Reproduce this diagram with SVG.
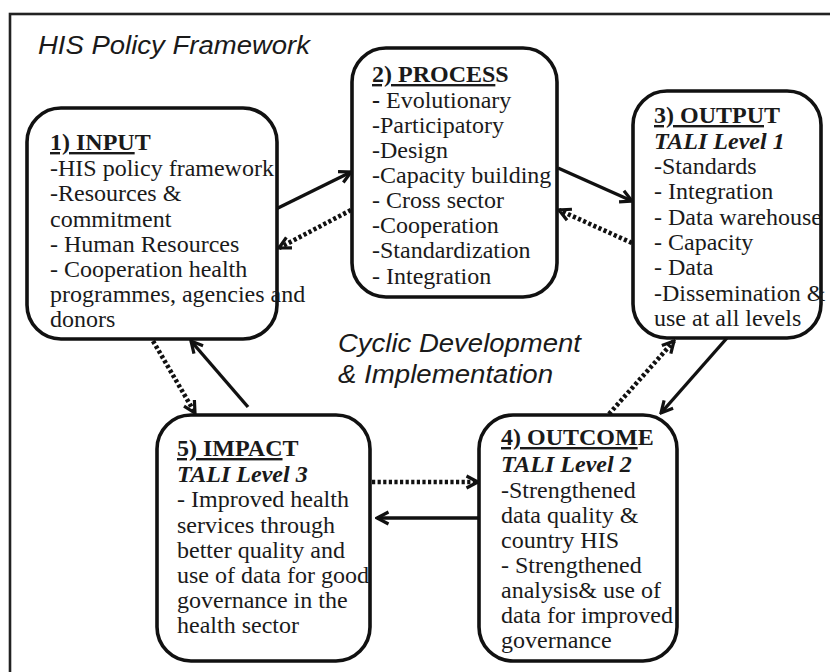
<svg xmlns="http://www.w3.org/2000/svg" width="830" height="672" viewBox="0 0 830 672">
<style>
.frame{fill:none;stroke:#222;stroke-width:2.6}
.box{fill:#fff;stroke:#111;stroke-width:3.6}
.t{font-family:"Liberation Serif","Times New Roman",serif;font-size:24px;fill:#1a1a1a}
.h{font-weight:bold}
.u{text-decoration:underline}
.tali{font-weight:bold;font-style:italic}
.lab{font-family:"Liberation Sans",Arial,sans-serif;font-style:italic;font-size:26px;fill:#1a1a1a}
.solid{fill:none;stroke:#111;stroke-width:3.4}
.dot{fill:none;stroke:#111;stroke-width:4.6;stroke-dasharray:3.2 2.4}
</style>
<defs>
<marker id="ah" viewBox="0 0 16 16" refX="14" refY="8" markerWidth="16" markerHeight="16" markerUnits="userSpaceOnUse" orient="auto">
<path d="M2.5,2 L14,8 L2.5,14" fill="none" stroke="#111" stroke-width="3.2" stroke-dasharray="none"/>
</marker>
</defs>
<rect width="830" height="672" fill="#fff"/>
<rect class="frame" x="10" y="14" width="840" height="700"/>
<text class="lab" x="38" y="54" textLength="272" lengthAdjust="spacingAndGlyphs">HIS Policy Framework</text>
<text class="lab" x="338" y="352" textLength="243" lengthAdjust="spacingAndGlyphs">Cyclic Development</text>
<text class="lab" x="338" y="383" textLength="215" lengthAdjust="spacingAndGlyphs">&amp; Implementation</text>

<g id="connectors">
<line class="solid" x1="276" y1="209" x2="351" y2="172" marker-end="url(#ah)"/>
<line class="dot" x1="351" y1="210" x2="279" y2="248" marker-end="url(#ah)"/>
<line class="solid" x1="558" y1="168" x2="632" y2="201" marker-end="url(#ah)"/>
<line class="dot" x1="632" y1="243" x2="559" y2="210" marker-end="url(#ah)"/>
<line class="solid" x1="727" y1="338" x2="661" y2="413" marker-end="url(#ah)"/>
<line class="dot" x1="609" y1="414" x2="674" y2="341" marker-end="url(#ah)"/>
<line class="solid" x1="479" y1="518" x2="377" y2="518" marker-end="url(#ah)"/>
<line class="dot" x1="372" y1="482" x2="478" y2="482" marker-end="url(#ah)"/>
<line class="solid" x1="248" y1="407" x2="191" y2="341" marker-end="url(#ah)"/>
<line class="dot" x1="153" y1="341" x2="195" y2="413" marker-end="url(#ah)"/>
</g>

<g id="input">
<rect class="box" x="27" y="108" width="250" height="231" rx="34"/>
<text class="t" x="50" y="150"><tspan class="h u">1) INPU</tspan><tspan class="h">T</tspan></text>
<text class="t" x="50" y="176">-HIS policy framework</text>
<text class="t" x="50" y="201">-Resources &amp;</text>
<text class="t" x="50" y="227">commitment</text>
<text class="t" x="50" y="252">- Human Resources</text>
<text class="t" x="50" y="277">- Cooperation health</text>
<text class="t" x="50" y="302">programmes, agencies and</text>
<text class="t" x="50" y="327">donors</text>
</g>

<g id="process">
<rect class="box" x="352" y="48" width="205" height="249" rx="34"/>
<text class="t" x="372" y="82"><tspan class="h u">2) PROCES</tspan><tspan class="h">S</tspan></text>
<text class="t" x="372" y="108"><tspan class="h">-</tspan> Evolutionary</text>
<text class="t" x="372" y="133">-Participatory</text>
<text class="t" x="372" y="158">-Design</text>
<text class="t" x="372" y="183">-Capacity building</text>
<text class="t" x="372" y="208">- Cross sector</text>
<text class="t" x="372" y="233">-Cooperation</text>
<text class="t" x="372" y="258">-Standardization</text>
<text class="t" x="372" y="284">- Integration</text>
</g>

<g id="output">
<rect class="box" x="633" y="91" width="188" height="247" rx="34"/>
<text class="t" x="654" y="123"><tspan class="h u">3) OUTPU</tspan><tspan class="h">T</tspan></text>
<text class="t tali" x="654" y="149">TALI Level 1</text>
<text class="t" x="654" y="174">-Standards</text>
<text class="t" x="654" y="199">- Integration</text>
<text class="t" x="654" y="225">- Data warehouse</text>
<text class="t" x="654" y="250">- Capacity</text>
<text class="t" x="654" y="275">- Data</text>
<text class="t" x="654" y="301">-Dissemination &amp;</text>
<text class="t" x="654" y="326">use at all levels</text>
</g>

<g id="outcome">
<rect class="box" x="479" y="415" width="198" height="246" rx="34"/>
<text class="t" x="501" y="445"><tspan class="h u">4) OUTCOM</tspan><tspan class="h">E</tspan></text>
<text class="t tali" x="501" y="472">TALI Level 2</text>
<text class="t" x="501" y="498">-Strengthened</text>
<text class="t" x="501" y="523">data quality &amp;</text>
<text class="t" x="501" y="548">country HIS</text>
<text class="t" x="501" y="573">- Strengthened</text>
<text class="t" x="501" y="598">analysis&amp; use of</text>
<text class="t" x="501" y="623">data for improved</text>
<text class="t" x="501" y="648">governance</text>
</g>

<g id="impact">
<rect class="box" x="157" y="415" width="213" height="246" rx="34"/>
<text class="t" x="177" y="456"><tspan class="h u">5) IMPAC</tspan><tspan class="h">T</tspan></text>
<text class="t tali" x="177" y="482">TALI Level 3</text>
<text class="t" x="177" y="507">- Improved health</text>
<text class="t" x="177" y="533">services through</text>
<text class="t" x="177" y="558">better quality and</text>
<text class="t" x="177" y="583">use of data for good</text>
<text class="t" x="177" y="608">governance in the</text>
<text class="t" x="177" y="633">health sector</text>
</g>
</svg>
